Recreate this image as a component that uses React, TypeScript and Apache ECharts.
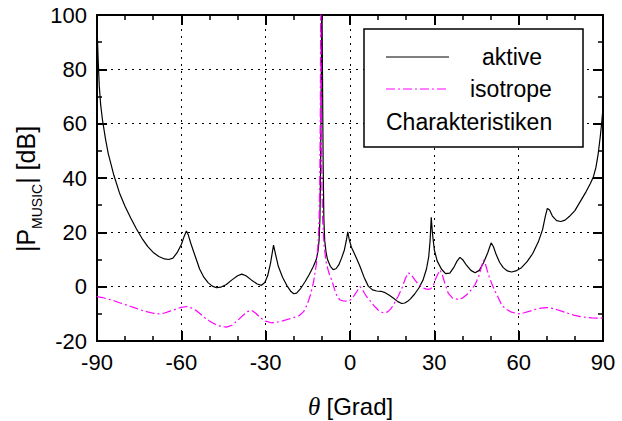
import React, { useEffect, useRef } from "react";
import * as echarts from "echarts";

// ---- data ----
const xTicks = [-90, -60, -30, 0, 30, 60, 90];
const yTicks = [-20, 0, 20, 40, 60, 80, 100];

const aktiveTheta = [
  -90, -89.6, -89.2, -88.7, -88, -87, -86, -85, -84, -82, -80, -78, -76, -74, -72, -70, -68, -66, -64.5, -63,
  -61.5, -60, -59, -58.2, -57.5, -56.5, -55, -53.5, -52, -50.5, -49, -47.5, -46, -44, -42, -40, -38.5, -37, -35,
  -33, -31.5, -30.3, -29.3, -28.3, -27.2, -26.4, -25.5, -24, -22.5, -21, -20, -19, -17.5, -16, -14.5, -13, -12,
  -11.4, -11, -10.7, -10.45, -10.2, -10, -9.8, -9.55, -9.3, -9, -8.5, -8, -7, -6, -5, -4, -3, -2, -1.3, -0.8,
  -0.3, 0.5, 1.5, 2.5, 3.6, 5, 6.5, 8, 9.5, 11, 12.5, 14, 15.5, 17, 18.4, 19.5, 20.5, 21.5, 23, 24.5, 26, 27.2,
  28, 28.5, 28.9, 29.3, 30, 31, 32.5, 34, 35.5, 37, 38, 39.1, 40.2, 41.5, 43, 44.5, 46, 47.5, 49, 50.2, 51, 52,
  53.2, 54.5, 56, 57.5, 59, 61, 63, 65, 67, 68.5, 69.5, 70.2, 71, 72, 73.5, 75, 76.5, 78, 80, 82, 84, 85.5, 86.6,
  87.5, 88.3, 89, 89.6, 90,
];
const aktiveDb = [
  96, 84, 74, 67, 61, 54.5, 49, 45, 41, 34.5, 29.5, 25.3, 21.3, 17.8, 14.8, 12.6, 11.1, 10.2, 10, 10.5,
  12.5, 15.5, 18.5, 20.5, 19, 15.5, 11, 6.5, 3.5, 1.5, 0.2, -0.4, -0.2, 0.8, 2.5, 4, 4.6, 4, 2.4,
  1, 0.5, 1.5, 4, 8.5, 15.3, 11.5, 7.5, 3.5, 0.5, -1.8, -2.6, -2.4, -0.6, 1.8, 4.5, 7.5, 10,
  13, 17, 25, 45, 80, 110, 80, 45, 25, 17, 12.5, 10, 7.5, 6.3, 6.6, 8, 10.5, 13.5, 17, 20.2,
  17.5, 14.5, 12.3, 10, 7.3, 3.5, 0.2, -1.2, -1.6, -1.7, -2.2, -3.2, -4.3, -5.5, -6.2, -6, -5.4, -4.5, -2.7, -0.5, 2.5, 6.5,
  11, 17, 25.5, 20, 13.5, 9.5, 6.5, 4.8, 5, 7.2, 9.3, 10.8, 9.8, 7.8, 6, 5.1, 6, 8.8, 12.5, 16.1, 14.8, 11.8,
  9, 7, 5.8, 5.4, 5.8, 7, 9.2, 12.2, 16.5, 21, 26, 28.8, 28.2, 26, 24.3, 24, 24.5, 25.8, 28, 31.5, 35, 38, 40.5,
  44, 49, 55, 61, 66,
];

const isoTheta = [
  -90, -88, -86, -84, -82, -80, -78, -76, -74, -72, -70, -68, -66, -64, -62, -60, -58, -56.5, -55, -53.5, -52,
  -50, -48, -46, -44, -42, -40, -38, -36.5, -35, -33.5, -32, -30, -28, -26, -24, -22, -20, -18, -16.5, -15.2,
  -14, -13, -12, -11.4, -11, -10.75, -10.55, -10.4, -10.2, -10, -9.7, -9.2, -8.5, -7.5, -6.5, -5.5, -4.5, -3.5,
  -2.5, -1, 0, 1, 2, 3, 3.6, 4.3, 5.2, 6, 7, 8.5, 10, 11.5, 12.5, 13.5, 14.5, 15.5, 17, 18.5, 19.7, 20.7, 21.7,
  23, 24.5, 26, 27.5, 28.7, 29.7, 30.7, 32, 32.8, 33.8, 35, 36.5, 38.5, 40, 41.5, 43, 44.5, 45.7, 46.7, 47.4,
  48, 48.8, 49.6, 50.4, 51.5, 52.8, 54, 55.5, 57.5, 60, 62, 64, 66, 68, 70, 72, 74, 76, 78, 80, 82, 84, 86, 88, 90,
];
const isoDb = [
  -3.7, -4, -4.6, -5.2, -5.9, -6.6, -7.3, -8, -8.7, -9.3, -9.8, -10, -9.7, -9, -8.3, -7.6, -7.3, -7.8, -8.6, -9.8, -11.2,
  -12.6, -13.8, -14.6, -14.9, -14.2, -12.5, -10.5, -9.2, -8.7, -9.8, -11.4, -12.7, -13.3, -13.1, -12.6, -12, -11.4, -10.6, -9.2, -6.5,
  -2.8, 1.5, 8, 15, 24, 38, 65, 110, 65, 38, 24, 15, 9, 5, 2.4, -1, -3.8, -4.9,
  -5.2, -5.3, -5, -4, -2.5, -0.8, 0, -0.7, -2.5, -3.8, -5, -7, -8.6, -9.5, -9.6, -9.2, -8.2, -6.6, -3.8, -0.5, 3, 5.1, 4.5,
  2.6, 0.6, -0.5, -1, -0.8, 0.6, 3.5, 6.1, 4.5, 1, -2.5, -4.2, -4.7, -4.2, -3, -1.3, 0.8, 3.5, 7, 9.8,
  9, 6, 3.3, 1.2, -1.5, -4.2, -6.8, -8.3, -9.4, -10, -9.6, -9, -8.3, -7.9, -7.7, -8, -8.6, -9.3, -10, -10.6, -11, -11.3, -11.5, -11.6, -11.6,
];

const legendNames = ["aktive", "isotrope", "Charakteristiken"];
const yTitleParts = ["|P", "MUSIC", "| [dB]"];
const xTitleParts = ["\u03B8", "[Grad]"];

const SANS = '"Liberation Sans", Arial, sans-serif';
const SERIF = '"Liberation Serif", "Times New Roman", serif';

function measure(text: string, font: string): number {
  const c = document.createElement("canvas").getContext("2d");
  if (!c) return text.length * 10;
  c.font = font;
  return c.measureText(text).width;
}

export default function App() {
  const ref = useRef<HTMLDivElement>(null);

  useEffect(() => {
    if (!ref.current) return;
    const chart = echarts.init(ref.current, null, { renderer: "svg" });

    const mainFs = 25;
    const subFs = 14;
    const w1 = measure(yTitleParts[0], `${mainFs}px "Liberation Sans"`);
    const w2 = measure(yTitleParts[1], `${subFs}px "Liberation Sans"`);
    const w3 = measure(yTitleParts[2], `${mainFs}px "Liberation Sans"`);
    const W = w1 + w2 + w3;

    const tickStyle = { color: "#000", width: 2 };
    const minorStyle = { color: "#000", width: 1.5 };
    const gridDash = { color: "#000", width: 1, type: [2, 5] as any };

    const xMin = xTicks[0];
    const xMax = xTicks[xTicks.length - 1];
    const yMin = yTicks[0];
    const yMax = yTicks[yTicks.length - 1];

    const baseX = {
      type: "value",
      min: xMin,
      max: xMax,
      interval: 30,
      axisLine: { show: true, onZero: false, lineStyle: { color: "#000", width: 2 } },
      axisTick: { show: true, inside: true, length: 10, lineStyle: tickStyle },
      minorTick: { show: true, splitNumber: 3, length: 5, lineStyle: minorStyle },
    };
    const baseY = {
      type: "value",
      min: yMin,
      max: yMax,
      interval: 20,
      axisLine: { show: true, onZero: false, lineStyle: { color: "#000", width: 2 } },
      axisTick: { show: true, inside: true, length: 10, lineStyle: tickStyle },
      minorTick: { show: true, splitNumber: 2, length: 5, lineStyle: minorStyle },
    };

    const option: any = {
      animation: false,
      backgroundColor: "#fff",
      grid: { left: 97, top: 15, width: 506, height: 326, containLabel: false },
      xAxis: [
        {
          ...baseX,
          position: "bottom",
          axisLabel: { show: true, color: "#000", fontSize: 22, fontFamily: SANS, margin: 10 },
          splitLine: { show: true, lineStyle: gridDash },
        },
        {
          ...baseX,
          position: "top",
          axisLabel: { show: false },
          splitLine: { show: false },
        },
      ],
      yAxis: [
        {
          ...baseY,
          position: "left",
          axisLabel: { show: true, color: "#000", fontSize: 22, fontFamily: SANS, margin: 10 },
          splitLine: { show: true, lineStyle: gridDash },
        },
        {
          ...baseY,
          position: "right",
          axisLabel: { show: false },
          splitLine: { show: false },
        },
      ],
      series: [
        {
          name: legendNames[0],
          type: "line",
          xAxisIndex: 0,
          yAxisIndex: 0,
          data: aktiveTheta.map((t, i) => [t, aktiveDb[i]]),
          showSymbol: false,
          symbol: "none",
          clip: true,
          lineStyle: { color: "#000", width: 1.2 },
          z: 3,
        },
        {
          name: legendNames[1],
          type: "line",
          xAxisIndex: 0,
          yAxisIndex: 0,
          data: isoTheta.map((t, i) => [t, isoDb[i]]),
          showSymbol: false,
          symbol: "none",
          clip: true,
          lineStyle: { color: "#ff00ff", width: 1.2, type: [9, 3, 2, 3] },
          z: 4,
        },
      ],
      graphic: [
        {
          type: "rect",
          z: 100,
          shape: { x: 364, y: 29, width: 219, height: 118 },
          style: { fill: "#fff", stroke: "#000", lineWidth: 1.5 },
        },
        {
          type: "line",
          z: 101,
          shape: { x1: 386, y1: 57, x2: 449, y2: 57 },
          style: { stroke: "#000", lineWidth: 1.2 },
        },
        {
          type: "text",
          z: 101,
          x: 482,
          y: 57,
          style: {
            text: legendNames[0],
            fill: "#000",
            fontSize: 23,
            fontFamily: SANS,
            align: "left",
            verticalAlign: "middle",
          },
        },
        {
          type: "line",
          z: 101,
          shape: { x1: 386, y1: 89, x2: 449, y2: 89 },
          style: { stroke: "#ff00ff", lineWidth: 1.2, lineDash: [9, 3, 2, 3] },
        },
        {
          type: "text",
          z: 101,
          x: 470,
          y: 89,
          style: {
            text: legendNames[1],
            fill: "#000",
            fontSize: 23,
            fontFamily: SANS,
            align: "left",
            verticalAlign: "middle",
          },
        },
        {
          type: "text",
          z: 101,
          x: 386,
          y: 122,
          style: {
            text: legendNames[2],
            fill: "#000",
            fontSize: 23,
            fontFamily: SANS,
            align: "left",
            verticalAlign: "middle",
          },
        },
        {
          type: "group",
          x: 26,
          y: 189,
          rotation: Math.PI / 2,
          children: [
            {
              type: "text",
              x: -W / 2,
              y: 0,
              style: {
                text: yTitleParts[0],
                fill: "#000",
                fontSize: mainFs,
                fontFamily: SANS,
                align: "left",
                verticalAlign: "middle",
              },
            },
            {
              type: "text",
              x: -W / 2 + w1,
              y: 10.5,
              style: {
                text: yTitleParts[1],
                fill: "#000",
                fontSize: subFs,
                fontFamily: SANS,
                align: "left",
                verticalAlign: "middle",
              },
            },
            {
              type: "text",
              x: -W / 2 + w1 + w2,
              y: 0,
              style: {
                text: yTitleParts[2],
                fill: "#000",
                fontSize: mainFs,
                fontFamily: SANS,
                align: "left",
                verticalAlign: "middle",
              },
            },
          ],
        },
        {
          type: "text",
          x: 308,
          y: 406,
          style: {
            text: xTitleParts[0],
            fill: "#000",
            fontSize: 25,
            fontStyle: "italic",
            fontFamily: SERIF,
            align: "left",
            verticalAlign: "middle",
          },
        },
        {
          type: "text",
          x: 326.5,
          y: 406,
          style: {
            text: xTitleParts[1],
            fill: "#000",
            fontSize: 24,
            fontFamily: SANS,
            align: "left",
            verticalAlign: "middle",
          },
        },
      ],
    };

    chart.setOption(option);
    return () => {
      chart.dispose();
    };
  }, []);

  return (
    <div
      ref={ref}
      style={{ position: "fixed", left: 0, top: 0, width: 622, height: 421, background: "#fff" }}
    />
  );
}
